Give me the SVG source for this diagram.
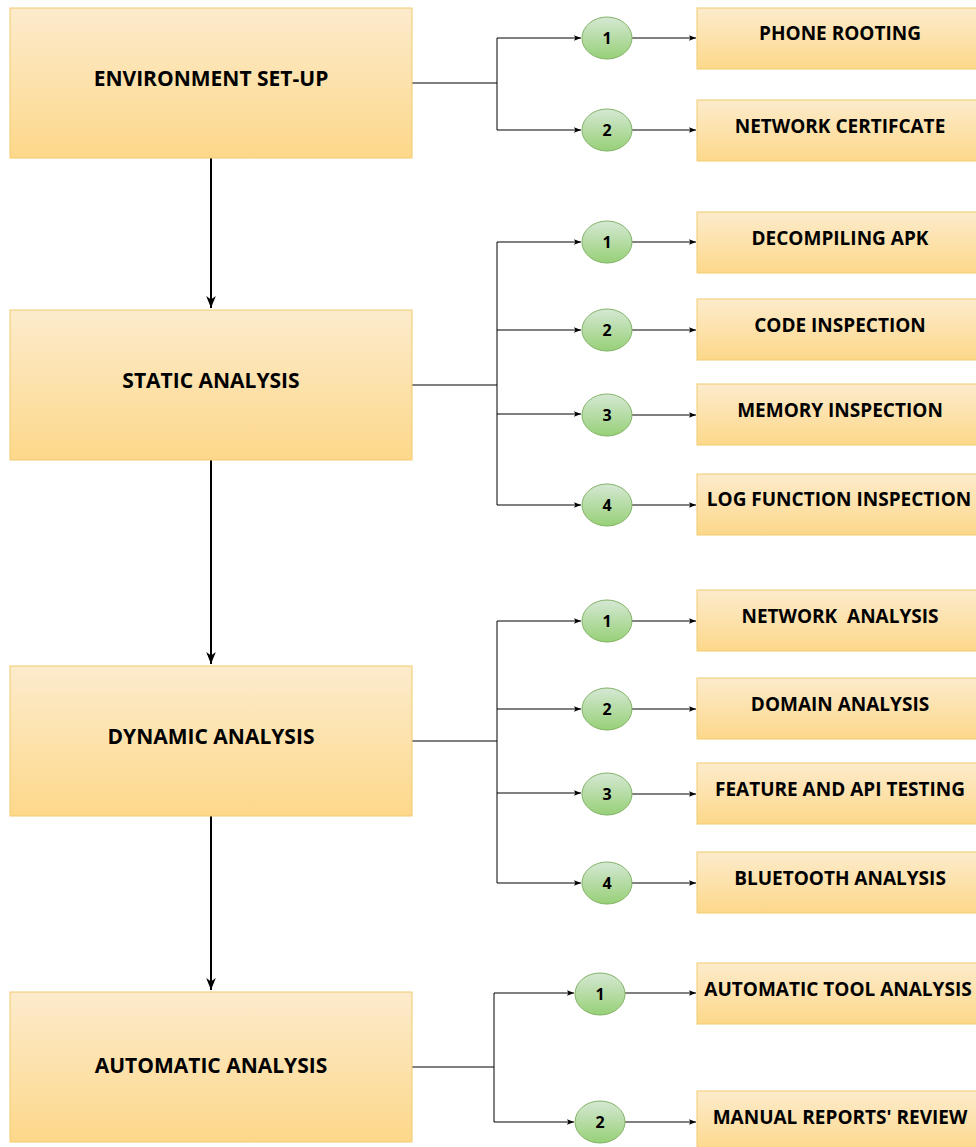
<svg xmlns="http://www.w3.org/2000/svg" width="976" height="1147" viewBox="0 0 976 1147">
<style>
.box{fill:url(#yg);stroke:#F2CB6E;stroke-width:1}
.ell{fill:url(#gg);stroke:#82b366;stroke-width:1}
.t{font-family:"Open Sans","Liberation Sans",sans-serif;font-weight:700;font-size:19px;fill:#000;text-anchor:middle}
.L{font-size:21px}
.n{font-family:"Open Sans","Liberation Sans",sans-serif;font-weight:700;font-size:16px;fill:#000;text-anchor:middle}
.c{fill:none;stroke:#000;stroke-width:1}
.v{fill:none;stroke:#000;stroke-width:2}
</style>
<defs>
<linearGradient id="yg" x1="0" y1="0" x2="0" y2="1"><stop offset="0" stop-color="#FCEBCC"/><stop offset="1" stop-color="#FDD88A"/></linearGradient>
<linearGradient id="gg" x1="0" y1="0" x2="0" y2="1"><stop offset="0" stop-color="#d5e8d4"/><stop offset="1" stop-color="#97d077"/></linearGradient>
<marker id="a" viewBox="0 0 10 10" refX="10" refY="5" markerWidth="7" markerHeight="7" markerUnits="userSpaceOnUse" orient="auto"><path d="M0,1 L10,5 L0,9 L2,5 Z" fill="#000"/></marker>
<marker id="b" viewBox="0 0 10 10" refX="10" refY="5" markerWidth="12" markerHeight="12" markerUnits="userSpaceOnUse" orient="auto"><path d="M0,1 L10,5 L0,9 L3,5 Z" fill="#000"/></marker>
</defs>
<g id="connectors">
<path class="v" d="M211,158 V308" marker-end="url(#b)"/>
<path class="v" d="M211,460 V664" marker-end="url(#b)"/>
<path class="v" d="M211,816 V990" marker-end="url(#b)"/>
<path class="c" d="M412,83 H497 M497,38 V130"/>
<path class="c" d="M497,38 H581" marker-end="url(#a)"/>
<path class="c" d="M497,130 H581" marker-end="url(#a)"/>
<path class="c" d="M632,38 H696" marker-end="url(#a)"/>
<path class="c" d="M632,130 H696" marker-end="url(#a)"/>
<path class="c" d="M412,385 H497 M497,242 V505"/>
<path class="c" d="M497,242 H581" marker-end="url(#a)"/>
<path class="c" d="M497,330 H581" marker-end="url(#a)"/>
<path class="c" d="M497,414 H581" marker-end="url(#a)"/>
<path class="c" d="M497,505 H581" marker-end="url(#a)"/>
<path class="c" d="M632,242 H696" marker-end="url(#a)"/>
<path class="c" d="M632,330 H696" marker-end="url(#a)"/>
<path class="c" d="M632,415 H696" marker-end="url(#a)"/>
<path class="c" d="M632,505 H696" marker-end="url(#a)"/>
<path class="c" d="M412,741 H497 M497,621 V883"/>
<path class="c" d="M497,621 H581" marker-end="url(#a)"/>
<path class="c" d="M497,709 H581" marker-end="url(#a)"/>
<path class="c" d="M497,793 H581" marker-end="url(#a)"/>
<path class="c" d="M497,883 H581" marker-end="url(#a)"/>
<path class="c" d="M632,621 H696" marker-end="url(#a)"/>
<path class="c" d="M632,709 H696" marker-end="url(#a)"/>
<path class="c" d="M632,794 H696" marker-end="url(#a)"/>
<path class="c" d="M632,883 H696" marker-end="url(#a)"/>
<path class="c" d="M412,1067 H494 M494,993 V1122"/>
<path class="c" d="M494,993 H574" marker-end="url(#a)"/>
<path class="c" d="M494,1122 H574" marker-end="url(#a)"/>
<path class="c" d="M625,993 H696" marker-end="url(#a)"/>
<path class="c" d="M625,1122 H696" marker-end="url(#a)"/>
</g>
<g id="env"><rect class="box" x="10" y="8" width="402" height="150"/><text class="t L" x="211" y="86">ENVIRONMENT SET-UP</text></g>
<g id="static"><rect class="box" x="10" y="310" width="402" height="150"/><text class="t L" x="211" y="388">STATIC ANALYSIS</text></g>
<g id="dynamic"><rect class="box" x="10" y="666" width="402" height="150"/><text class="t L" x="211" y="744">DYNAMIC ANALYSIS</text></g>
<g id="automatic"><rect class="box" x="10" y="992" width="402" height="150"/><text class="t L" x="211" y="1073">AUTOMATIC ANALYSIS</text></g>
<g id="e1a"><ellipse class="ell" cx="607" cy="38" rx="25" ry="21"/><text class="n" x="607" y="44">1</text></g>
<g id="e1b"><ellipse class="ell" cx="607" cy="130" rx="25" ry="21"/><text class="n" x="607" y="136">2</text></g>
<g id="e2a"><ellipse class="ell" cx="607" cy="242" rx="25" ry="21"/><text class="n" x="607" y="248">1</text></g>
<g id="e2b"><ellipse class="ell" cx="607" cy="330" rx="25" ry="21"/><text class="n" x="607" y="336">2</text></g>
<g id="e2c"><ellipse class="ell" cx="607" cy="415" rx="25" ry="21"/><text class="n" x="607" y="421">3</text></g>
<g id="e2d"><ellipse class="ell" cx="607" cy="505" rx="25" ry="21"/><text class="n" x="607" y="511">4</text></g>
<g id="e3a"><ellipse class="ell" cx="607" cy="621" rx="25" ry="21"/><text class="n" x="607" y="627">1</text></g>
<g id="e3b"><ellipse class="ell" cx="607" cy="709" rx="25" ry="21"/><text class="n" x="607" y="715">2</text></g>
<g id="e3c"><ellipse class="ell" cx="607" cy="794" rx="25" ry="21"/><text class="n" x="607" y="800">3</text></g>
<g id="e3d"><ellipse class="ell" cx="607" cy="883" rx="25" ry="21"/><text class="n" x="607" y="889">4</text></g>
<g id="e4a"><ellipse class="ell" cx="600" cy="994" rx="25" ry="21"/><text class="n" x="600" y="1000">1</text></g>
<g id="e4b"><ellipse class="ell" cx="600" cy="1122" rx="25" ry="21"/><text class="n" x="600" y="1128">2</text></g>
<g id="r1"><rect class="box" x="697" y="8" width="286" height="61"/><text class="t" x="840" y="40">PHONE ROOTING</text></g>
<g id="r2"><rect class="box" x="697" y="100" width="286" height="61"/><text class="t" x="840" y="133">NETWORK CERTIFCATE</text></g>
<g id="r3"><rect class="box" x="697" y="212" width="286" height="61"/><text class="t" x="840" y="245">DECOMPILING APK</text></g>
<g id="r4"><rect class="box" x="697" y="299" width="286" height="61"/><text class="t" x="840" y="332">CODE INSPECTION</text></g>
<g id="r5"><rect class="box" x="697" y="384" width="286" height="61"/><text class="t" x="840" y="417">MEMORY INSPECTION</text></g>
<g id="r6"><rect class="box" x="697" y="474" width="286" height="61"/><text class="t" x="839" y="506">LOG FUNCTION INSPECTION</text></g>
<g id="r7"><rect class="box" x="697" y="590" width="286" height="61"/><text class="t" x="840" y="623" xml:space="preserve">NETWORK  ANALYSIS</text></g>
<g id="r8"><rect class="box" x="697" y="678" width="286" height="61"/><text class="t" x="840" y="711">DOMAIN ANALYSIS</text></g>
<g id="r9"><rect class="box" x="697" y="763" width="286" height="61"/><text class="t" x="840" y="796">FEATURE AND API TESTING</text></g>
<g id="r10"><rect class="box" x="697" y="852" width="286" height="61"/><text class="t" x="840" y="885">BLUETOOTH ANALYSIS</text></g>
<g id="r11"><rect class="box" x="697" y="963" width="286" height="61"/><text class="t" x="838" y="996">AUTOMATIC TOOL ANALYSIS</text></g>
<g id="r12"><rect class="box" x="697" y="1091" width="286" height="61"/><text class="t" x="840" y="1124">MANUAL REPORTS' REVIEW</text></g>
</svg>
